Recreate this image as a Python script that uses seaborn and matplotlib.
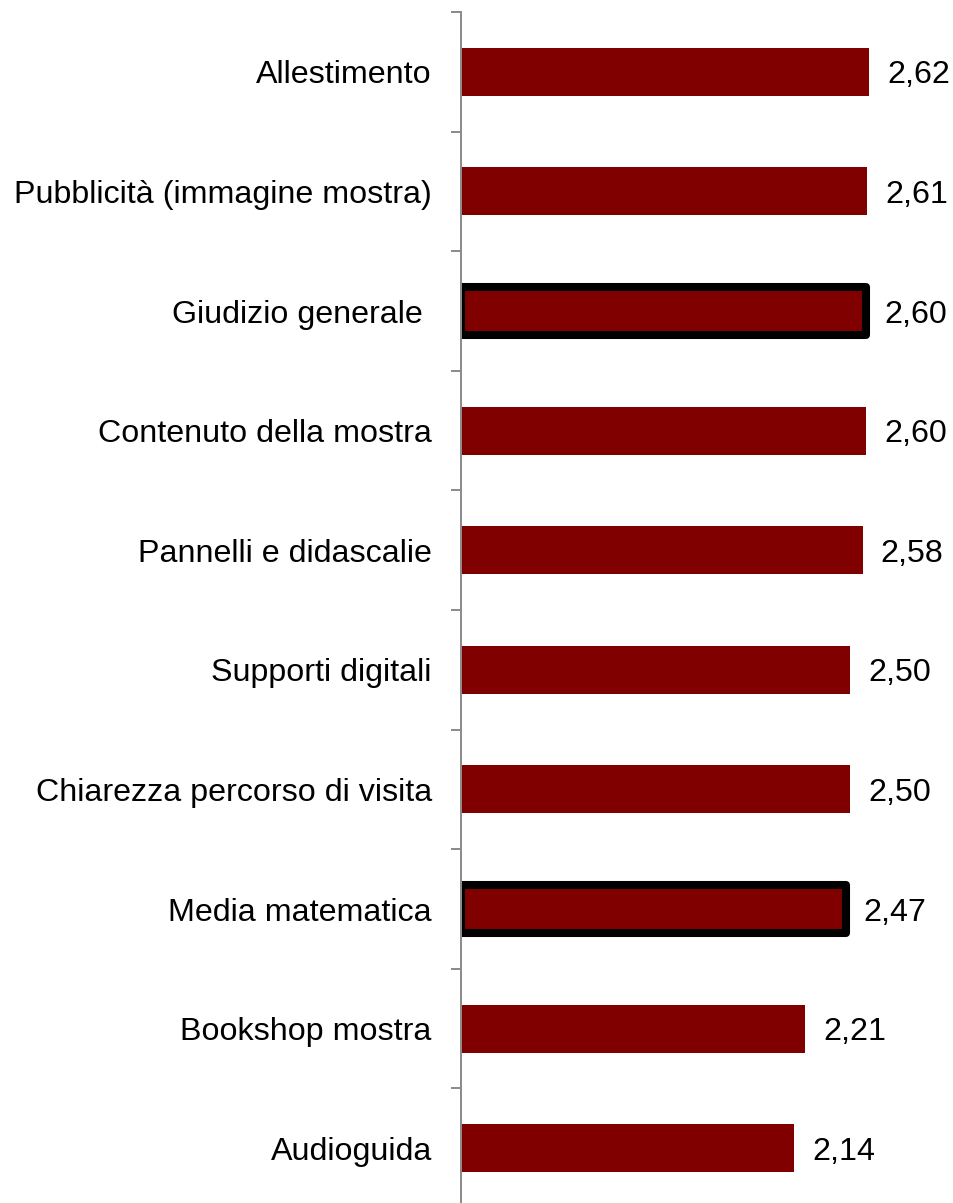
import matplotlib
matplotlib.use("Agg")
import matplotlib.pyplot as plt
import seaborn as sns
import pandas as pd
import numpy as np

categories = [
    "Allestimento",
    "Pubblicità (immagine mostra)",
    "Giudizio generale ",
    "Contenuto della mostra",
    "Pannelli e didascalie",
    "Supporti digitali",
    "Chiarezza percorso di visita",
    "Media matematica",
    "Bookshop mostra",
    "Audioguida",
]
values = [2.62, 2.61, 2.60, 2.60, 2.58, 2.50, 2.50, 2.47, 2.21, 2.14]
highlighted = ["Giudizio generale ", "Media matematica"]

BAR_COLOR = "#800000"
AXIS_GRAY = "#8c8c8c"
FONT_SIZE = 23.2

sns.set_theme(style="white")
plt.rcParams["font.family"] = ["Liberation Sans", "DejaVu Sans"]

df = pd.DataFrame({"categoria": categories, "valore": values})

W, H, DPI = 954, 1203, 100
fig = plt.figure(figsize=(W / DPI, H / DPI), dpi=DPI)
ax = fig.add_axes([461 / W, 0, 1 - 461 / W, 1 - 12 / H])

sns.barplot(data=df, x="valore", y="categoria", order=categories,
            color=BAR_COLOR, saturation=1, width=0.4, ax=ax)

# Thick black outline on the summary bars
for patch, cat in zip(ax.patches, categories):
    if cat in highlighted:
        patch.set_edgecolor("black")
        patch.set_linewidth(5.8)
        patch.set_joinstyle("round")
    else:
        patch.set_edgecolor("none")

labels = [f"{v:.2f}".replace(".", ",") for v in values]
texts = ax.bar_label(ax.containers[0], labels=labels, padding=13,
                     fontsize=FONT_SIZE, color="black")
for t in texts:
    t.set_va("center_baseline")

ax.set_xlabel("")
ax.set_ylabel("")
ax.set_xticks([])

ax.set_yticks(np.arange(len(categories)))
ax.set_yticklabels(categories, fontsize=FONT_SIZE, color="black")
ax.set_yticks(np.arange(len(categories) + 1) - 0.5, minor=True)
ax.tick_params(axis="y", which="major", length=0, pad=21)
ax.tick_params(axis="y", which="minor", length=7.2, width=1.44,
               color=AXIS_GRAY, left=True)

ax.set_xlim(0, (W - 461) / 155.7)
ax.set_ylim(9.458, -0.5)

for side in ["top", "right", "bottom"]:
    ax.spines[side].set_visible(False)
ax.spines["left"].set_color(AXIS_GRAY)
ax.spines["left"].set_linewidth(1.44)

fig.savefig("out.png", dpi=DPI)
